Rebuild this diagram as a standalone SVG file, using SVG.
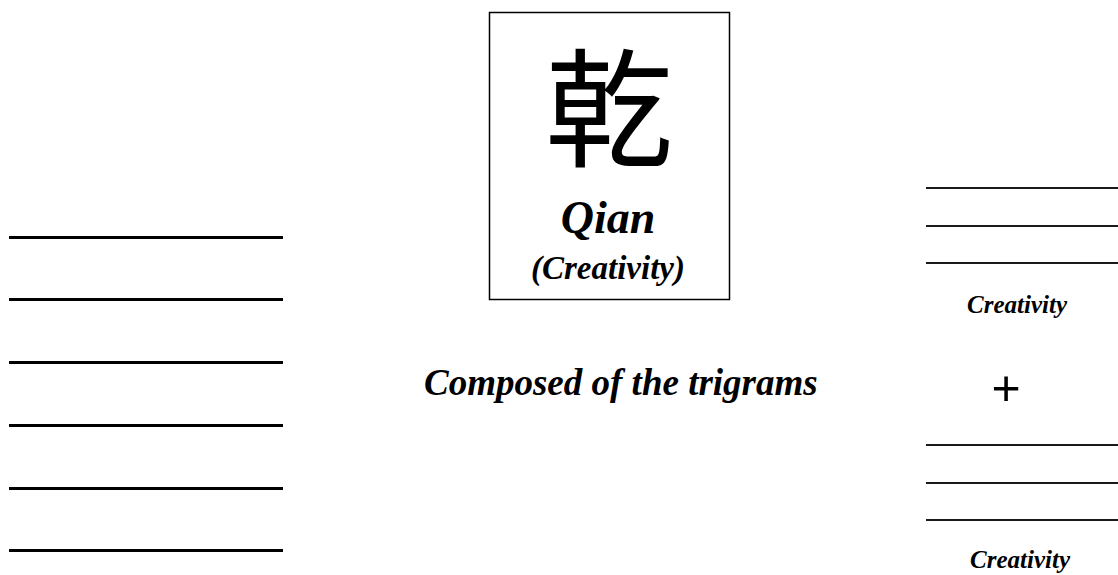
<svg xmlns="http://www.w3.org/2000/svg" width="1118" height="575" viewBox="0 0 1118 575">
<style>
.t{font-family:"Liberation Serif","Times New Roman",serif;font-weight:bold;font-style:italic;fill:#000}
.yang{stroke:#000;stroke-width:3}
.tri{stroke:#1a1a1a;stroke-width:2}
</style>
<rect width="1118" height="575" fill="#fff"/>
<g id="hexagram">
<line class="yang" x1="9" y1="237.5" x2="283" y2="237.5"/>
<line class="yang" x1="9" y1="299.5" x2="283" y2="299.5"/>
<line class="yang" x1="9" y1="362.5" x2="283" y2="362.5"/>
<line class="yang" x1="9" y1="425.5" x2="283" y2="425.5"/>
<line class="yang" x1="9" y1="488.5" x2="283" y2="488.5"/>
<line class="yang" x1="9" y1="550.5" x2="283" y2="550.5"/>
</g>
<g id="title-box">
<rect x="489.5" y="12.5" width="240" height="287" fill="none" stroke="#000" stroke-width="1.5"/>
<text x="609" y="157" text-anchor="middle" font-family="Noto Sans CJK TC, Noto Sans CJK SC, sans-serif" font-size="128" fill="#000">乾</text>
<text class="t" x="608" y="233" text-anchor="middle" font-size="46">Qian</text>
<text class="t" x="608" y="279" text-anchor="middle" font-size="33">(Creativity)</text>
</g>
<g id="composed">
<text class="t" x="424" y="395" font-size="37">Composed of the trigrams</text>
</g>
<g id="trigram-top">
<line class="tri" x1="926" y1="188" x2="1118" y2="188"/>
<line class="tri" x1="926" y1="226" x2="1118" y2="226"/>
<line class="tri" x1="926" y1="263" x2="1118" y2="263"/>
<text class="t" x="1017" y="313" text-anchor="middle" font-size="25">Creativity</text>
</g>
<g id="plus">
<text x="1006" y="405" text-anchor="middle" font-family="Liberation Sans, Arial, sans-serif" font-size="50" fill="#000">+</text>
</g>
<g id="trigram-bottom">
<line class="tri" x1="926" y1="445" x2="1118" y2="445"/>
<line class="tri" x1="926" y1="483" x2="1118" y2="483"/>
<line class="tri" x1="926" y1="520" x2="1118" y2="520"/>
<text class="t" x="1020" y="568" text-anchor="middle" font-size="25">Creativity</text>
</g>
<g id="connectors"></g>
</svg>
